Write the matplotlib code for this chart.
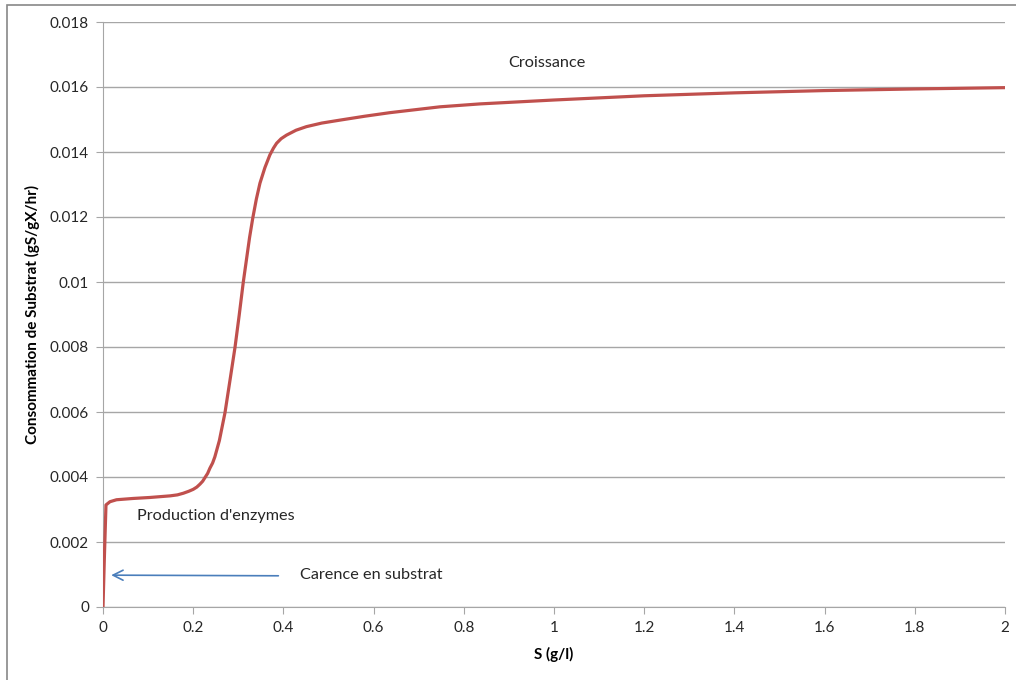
import matplotlib
matplotlib.use('Agg')
import matplotlib.pyplot as plt
from matplotlib.patches import Rectangle

# values
s_vals = [0.0, 0.003, 0.0066, 0.0155, 0.03, 0.067, 0.104, 0.149, 0.165, 0.178, 0.190,
          0.200, 0.208, 0.215, 0.221, 0.226, 0.232, 0.237, 0.243, 0.248, 0.258,
          0.2705, 0.2816, 0.2927, 0.302, 0.311, 0.318, 0.325, 0.332, 0.340, 0.348,
          0.359, 0.370, 0.378, 0.385, 0.395, 0.407, 0.428, 0.451, 0.485, 0.525,
          0.58, 0.636, 0.747, 0.836, 1.0, 1.2, 1.4, 1.6, 1.8, 2.0]
q_vals = [0.0, 0.0015, 0.00314, 0.00324, 0.00330, 0.00334, 0.00337, 0.00342, 0.00345, 0.00350, 0.00356,
          0.00362, 0.00369, 0.00378, 0.00387, 0.00398, 0.00411, 0.00427, 0.00443, 0.00462, 0.00512,
          0.00598, 0.00698, 0.00799, 0.00898, 0.00999, 0.01068, 0.01137, 0.01196, 0.01255, 0.01304,
          0.01352, 0.01391, 0.01412, 0.01427, 0.01441, 0.01452, 0.01467, 0.01478, 0.01489, 0.01498,
          0.01510, 0.01521, 0.01539, 0.01548, 0.01560, 0.01573, 0.01582, 0.01589, 0.01594, 0.01598]

x_ticks = [0, 0.2, 0.4, 0.6, 0.8, 1, 1.2, 1.4, 1.6, 1.8, 2]
x_tick_labels = ['0', '0.2', '0.4', '0.6', '0.8', '1', '1.2', '1.4', '1.6', '1.8', '2']
y_ticks = [0, 0.002, 0.004, 0.006, 0.008, 0.01, 0.012, 0.014, 0.016, 0.018]
y_tick_labels = ['0', '0.002', '0.004', '0.006', '0.008', '0.01', '0.012', '0.014', '0.016', '0.018']

plt.rcParams['font.family'] = ['Lato', 'DejaVu Sans']

fig = plt.figure(figsize=(10.16, 6.8), dpi=100)
fig.patches.append(Rectangle((7/1016., -0.1), 1.2, (680 - 5)/680. + 0.1, transform=fig.transFigure,
                             fill=False, edgecolor='#888888', linewidth=1.2))
ax = fig.add_axes([103/1016., 73/680., 902/1016., 585/680.])

ax.plot(s_vals, q_vals, color='#c0504d', linewidth=2.3, solid_capstyle='round',
        solid_joinstyle='round', zorder=3)

ax.set_xlim(0, 2)
ax.set_ylim(0, 0.018)
ax.set_xticks(x_ticks)
ax.set_xticklabels(x_tick_labels)
ax.set_yticks(y_ticks)
ax.set_yticklabels(y_tick_labels)
ax.yaxis.grid(True, color='#a6a6a6', linewidth=1)
ax.set_axisbelow(True)
for side in ['top', 'right']:
    ax.spines[side].set_visible(False)
for side in ['left', 'bottom']:
    ax.spines[side].set_color('#a6a6a6')
ax.tick_params(colors='#a6a6a6', labelcolor='#262626', length=5, labelsize=11, pad=5)

ax.set_xlabel('S (g/l)', fontweight='bold', fontsize=11, labelpad=9)
ax.set_ylabel('Consommation de Substrat (gS/gX/hr)', fontweight='bold', fontsize=11, labelpad=7)

ax.annotate('', xy=(0.012, 0.00098), xytext=(0.395, 0.00096),
            arrowprops=dict(arrowstyle='->', color='#4a7ebb', linewidth=1.2, mutation_scale=18))
ax.text(0.437, 0.00098, 'Carence en substrat', fontsize=11.7, va='center', ha='left', color='#262626')
ax.text(0.075, 0.0028, "Production d'enzymes", fontsize=11.7, va='center', ha='left', color='#262626')
ax.text(0.985, 0.01675, 'Croissance', fontsize=11.7, va='center', ha='center', color='#262626')

plt.savefig('out.png', dpi=100)
